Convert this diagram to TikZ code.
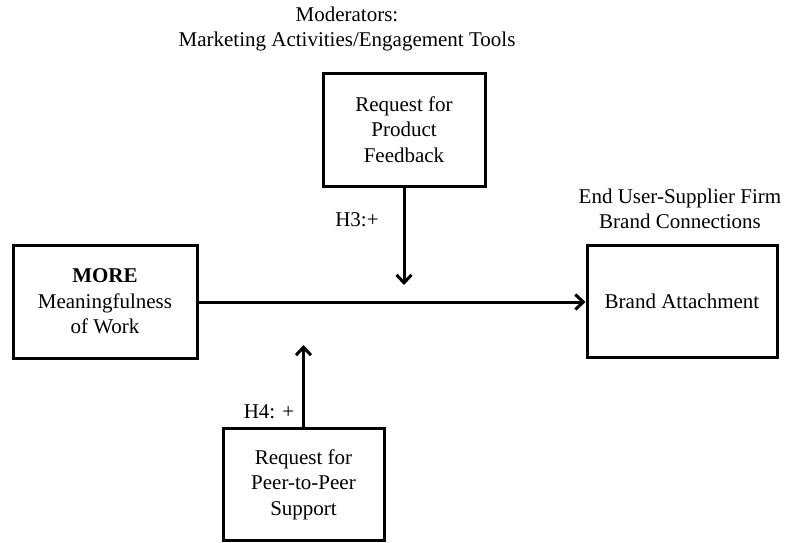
\documentclass[tikz,border=0pt]{standalone}
\usepackage{fontspec}
\setmainfont{Liberation Serif}
\newfontfamily\figfont{Liberation Serif}
\usetikzlibrary{arrows.meta}
\begin{document}
\begin{tikzpicture}[x=1pt,y=-1pt,
  box/.style={draw, line width=3pt, align=center, inner sep=0pt,
    font=\figfont\fontsize{21}{25.5}\selectfont},
  lbl/.style={align=center, inner sep=0pt, font=\figfont\fontsize{21}{25.5}\selectfont},
  link/.style={line width=3pt, -{Straight Barb[length=8pt,width=15pt,line width=3pt]}}]
  \useasboundingbox (0,0) rectangle (786,542);

  % construct and outcome
  \node[box, minimum width=184pt, minimum height=113pt] (work) at (105,301.5)
    {\textbf{MORE}\\Meaningfulness\\of Work};
  \node[box, minimum width=190pt, minimum height=112pt] (brand) at (682,301)
    {Brand Attachment};

  % moderators
  \node[box, minimum width=162pt, minimum height=113pt] (feedback) at (404,129.5)
    {Request for\\Product\\Feedback};
  \node[box, minimum width=161pt, minimum height=112pt] (peer) at (303.5,484.5)
    {Request for\\Peer-to-Peer\\Support};

  % headings
  \node[lbl] (modhead) at (347,29) {Moderators:\\Marketing Activities/Engagement Tools};
  \node[lbl] (brandhead) at (680,209) {End User-Supplier Firm\\Brand Connections};

  % hypothesis labels
  \node[lbl, anchor=center] (h3) at (357,220) {H3:+};
  \node[lbl, anchor=center] (h4) at (269,412) {H4: +};

  % connectors
  \coordinate (hit3) at (feedback.south |- 0,285);
  \coordinate (hit4) at (peer.north |- 0,345);
  \draw[link] (work.east |- 0,302) -- (brand.west |- 0,302);
  \draw[link] (feedback.south) -- (hit3);
  \draw[link] (peer.north) -- (hit4);
\end{tikzpicture}
\end{document}
